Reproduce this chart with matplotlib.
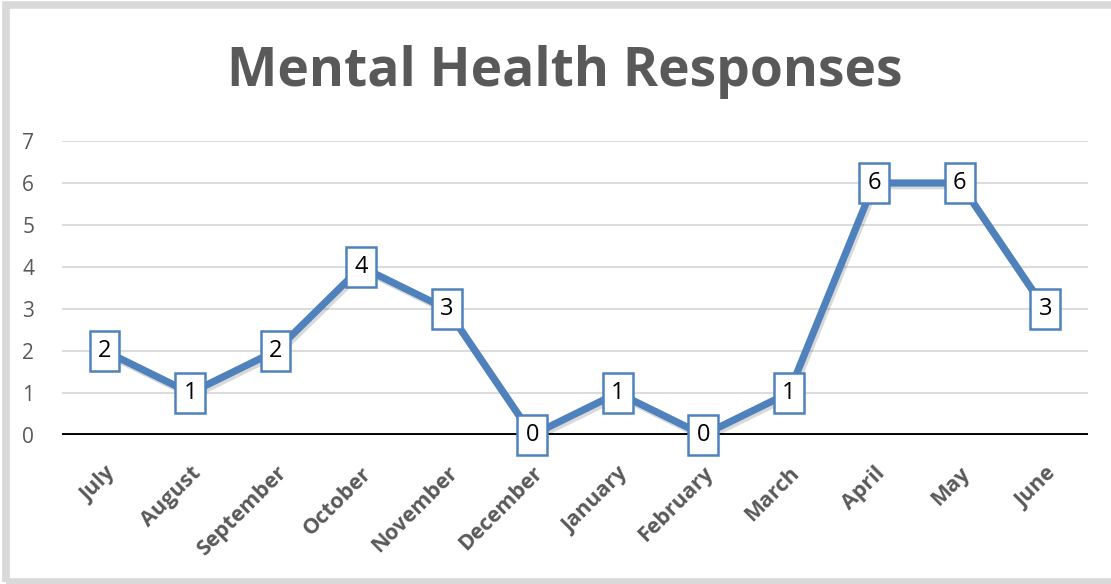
import matplotlib
matplotlib.use("Agg")
import matplotlib.pyplot as plt
import matplotlib.patheffects as pe
from matplotlib.patches import Rectangle

months = ["July", "August", "September", "October", "November", "December",
          "January", "February", "March", "April", "May", "June"]
responses = [2, 1, 2, 4, 3, 0, 1, 0, 1, 6, 6, 3]

GRAY = "#595959"
BLUE = "#4f81bd"

fig = plt.figure(figsize=(11.11, 5.84), dpi=100)
fig.patches.append(Rectangle((6 / 1111, 2 / 584), 1.2, 577 / 584,
                             transform=fig.transFigure, fill=False,
                             edgecolor="#d9d9d9", lw=5.5))
ax = fig.add_axes([62 / 1111, 149 / 584, 1026 / 1111, 294 / 584])

x = list(range(len(months)))
ax.plot(x, responses, color=BLUE, lw=5.2, solid_joinstyle="miter", zorder=3,
        path_effects=[pe.SimpleLineShadow(offset=(1.5, -2), shadow_color="k", alpha=0.15),
                      pe.Normal()])
for xi, v in zip(x, responses):
    ax.text(xi, v, str(v), ha="center", va="center", fontsize=17, color="black",
            family="Open Sans", zorder=5,
            bbox=dict(boxstyle="square,pad=0.34", fc="white", ec=BLUE, lw=1.8))

ax.set_xlim(-0.5, len(months) - 0.5)
ax.set_ylim(0, 7)
ax.set_yticks(range(8))
ax.yaxis.grid(True, color="#d9d9d9", lw=1.3)
ax.set_axisbelow(True)
ax.axhline(0, color="black", lw=2.8, zorder=2)
for s in ax.spines.values():
    s.set_visible(False)
ax.tick_params(length=0)
ax.tick_params(axis="y", labelsize=15, labelcolor=GRAY, pad=20)
ax.set_xticks(x)
ax.set_xticklabels(months, rotation=45, ha="right", va="top", rotation_mode="anchor",
                   fontsize=15.5, fontweight="bold", color=GRAY, family="Open Sans")
ax.tick_params(axis="x", pad=20)
for lab in ax.get_yticklabels():
    lab.set_family("Open Sans")

fig.text(0.508, 0.876, "Mental Health Responses", ha="center", va="center",
         fontsize=38.5, fontweight="bold", color=GRAY, family="Open Sans")

fig.savefig("out.png", dpi=100)
